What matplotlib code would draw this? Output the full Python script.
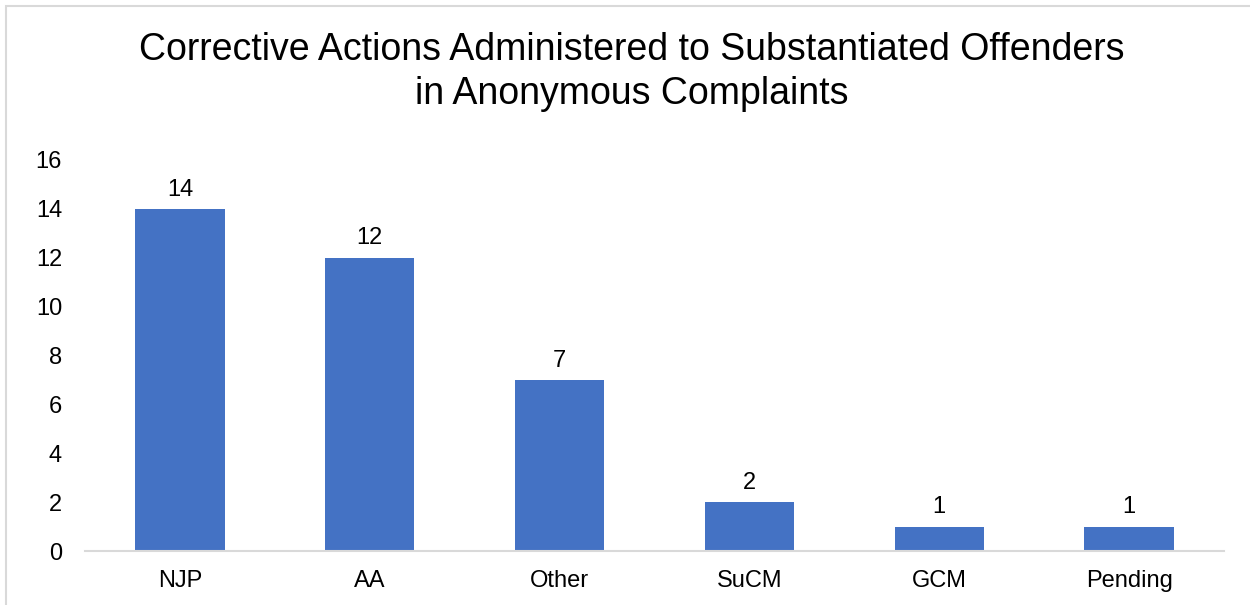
import matplotlib
matplotlib.use("Agg")
import matplotlib.pyplot as plt
from matplotlib.patches import Rectangle

categories = ["NJP", "AA", "Other", "SuCM", "GCM", "Pending"]
values = [14, 12, 7, 2, 1, 1]
yticks = [0, 2, 4, 6, 8, 10, 12, 14, 16]

plt.rcParams['font.family'] = ['Liberation Sans', 'DejaVu Sans']

W, H = 1250, 605
fig = plt.figure(figsize=(W / 100, H / 100), dpi=100)
ax = fig.add_axes([85 / W, (H - 551) / H, (1224 - 85) / W, (551 - 160) / H])

x = list(range(len(categories)))
bars = ax.bar(x, values, width=0.47, color="#4472C4", zorder=2)
for xi, v in zip(x, values):
    ax.annotate(str(v), (xi, v), xytext=(0, 6), textcoords="offset points",
                ha="center", va="bottom", fontsize=17, color="black")

ax.set_xlim(-0.5, len(categories) - 0.5)
ax.set_ylim(0, 16)
ax.set_yticks(yticks)
ax.set_yticklabels([str(t) for t in yticks], fontsize=17)
ax.set_xticks(x)
ax.set_xticklabels(categories, fontsize=17)
ax.tick_params(axis="both", length=0)
ax.tick_params(axis="y", pad=16.5)
ax.tick_params(axis="x", pad=14)
for s in ["top", "right", "left"]:
    ax.spines[s].set_visible(False)
ax.spines["bottom"].set_color("#d9d9d9")
ax.spines["bottom"].set_linewidth(1.5)

fig.text(632 / W, 1 - 72 / H,
         "Corrective Actions Administered to Substantiated Offenders\nin Anonymous Complaints",
         ha="center", va="center", fontsize=27, linespacing=1.28)

fig.patches.append(Rectangle((6 / W, -0.1), 1.2, (H - 6) / H + 0.1,
                             transform=fig.transFigure, fill=False,
                             edgecolor="#d9d9d9", linewidth=1.5))

fig.savefig("out.png", dpi=100)
